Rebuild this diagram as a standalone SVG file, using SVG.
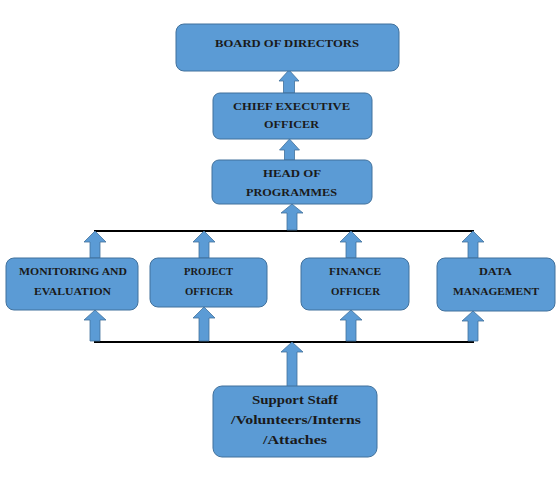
<svg xmlns="http://www.w3.org/2000/svg" width="559" height="478" viewBox="0 0 559 478">
<style>
.box{fill:#5b9bd5;stroke:#41719c;stroke-width:1}
.arr{fill:#5b9bd5;stroke:#41719c;stroke-width:0.8}
.ln{stroke:#000;stroke-width:2;fill:none}
text{font-family:"Liberation Serif","Times New Roman",serif;font-weight:bold;fill:#1a1a1a;text-anchor:middle;font-size:10.5px}
.big{font-size:12.5px}
</style>
<rect width="559" height="478" fill="#fff"/>
<g id="connectors">
<line class="ln" x1="94" y1="231" x2="474" y2="231"/>
<line class="ln" x1="94" y1="342" x2="474" y2="342"/>
<path class="arr" d="M289,70 L299,81 L294.5,81 L294.5,93 L283.5,93 L283.5,81 L279,81 Z"/>
<path class="arr" d="M289.5,139 L299.5,150 L294.5,150 L294.5,160 L284.5,160 L284.5,150 L279.5,150 Z"/>
<path class="arr" d="M292,204 L303,213 L297,213 L297,230 L287,230 L287,213 L281,213 Z"/>
<path class="arr" d="M95,231 L106,242 L100,242 L100,258 L90,258 L90,242 L84,242 Z"/>
<path class="arr" d="M204,231 L215,242 L209,242 L209,258 L199,258 L199,242 L193,242 Z"/>
<path class="arr" d="M351,231 L362,242 L356,242 L356,258 L346,258 L346,242 L340,242 Z"/>
<path class="arr" d="M473,231 L484,242 L478,242 L478,258 L468,258 L468,242 L462,242 Z"/>
<path class="arr" d="M95,310 L106,320 L100,320 L100,341 L90,341 L90,320 L84,320 Z"/>
<path class="arr" d="M204,307 L215,318 L209,318 L209,341 L199,341 L199,318 L193,318 Z"/>
<path class="arr" d="M351,310 L362,320 L356,320 L356,341 L346,341 L346,320 L340,320 Z"/>
<path class="arr" d="M473,311 L484,321 L478,321 L478,341 L468,341 L468,321 L462,321 Z"/>
<path class="arr" d="M292,342 L303,352 L297,352 L297,390 L287,390 L287,352 L281,352 Z"/>
</g>
<g id="board">
<rect class="box" x="176" y="24" width="223" height="47" rx="8"/>
<text x="287" y="47" textLength="144" lengthAdjust="spacingAndGlyphs">BOARD OF DIRECTORS</text>
</g>
<g id="ceo">
<rect class="box" x="213" y="93" width="159" height="46" rx="7"/>
<text x="291.5" y="110" textLength="117" lengthAdjust="spacingAndGlyphs">CHIEF EXECUTIVE</text>
<text x="291.5" y="128" textLength="55" lengthAdjust="spacingAndGlyphs">OFFICER</text>
</g>
<g id="head">
<rect class="box" x="212" y="160" width="160" height="44" rx="7"/>
<text x="292" y="177" textLength="58" lengthAdjust="spacingAndGlyphs">HEAD OF</text>
<text x="291.5" y="196" textLength="91" lengthAdjust="spacingAndGlyphs">PROGRAMMES</text>
</g>
<g id="monitoring">
<rect class="box" x="6" y="258" width="132" height="52" rx="8"/>
<text x="73" y="275" textLength="108" lengthAdjust="spacingAndGlyphs">MONITORING AND</text>
<text x="72.5" y="295" textLength="77" lengthAdjust="spacingAndGlyphs">EVALUATION</text>
</g>
<g id="project">
<rect class="box" x="150" y="258" width="117" height="49" rx="8"/>
<text x="208.5" y="275" textLength="49" lengthAdjust="spacingAndGlyphs">PROJECT</text>
<text x="209" y="295" textLength="48" lengthAdjust="spacingAndGlyphs">OFFICER</text>
</g>
<g id="finance">
<rect class="box" x="301" y="258" width="108" height="52" rx="8"/>
<text x="355" y="275" textLength="52" lengthAdjust="spacingAndGlyphs">FINANCE</text>
<text x="355.5" y="295" textLength="49" lengthAdjust="spacingAndGlyphs">OFFICER</text>
</g>
<g id="data">
<rect class="box" x="437" y="258" width="118" height="53" rx="8"/>
<text x="495.5" y="275" textLength="33" lengthAdjust="spacingAndGlyphs">DATA</text>
<text x="496" y="295" textLength="86" lengthAdjust="spacingAndGlyphs">MANAGEMENT</text>
</g>
<g id="support">
<rect class="box" x="213" y="386" width="164" height="71" rx="9"/>
<text class="big" x="295" y="404" textLength="86" lengthAdjust="spacingAndGlyphs">Support Staff</text>
<text class="big" x="296" y="424" textLength="130" lengthAdjust="spacingAndGlyphs">/Volunteers/Interns</text>
<text class="big" x="295" y="444" textLength="64" lengthAdjust="spacingAndGlyphs">/Attaches</text>
</g>
</svg>
